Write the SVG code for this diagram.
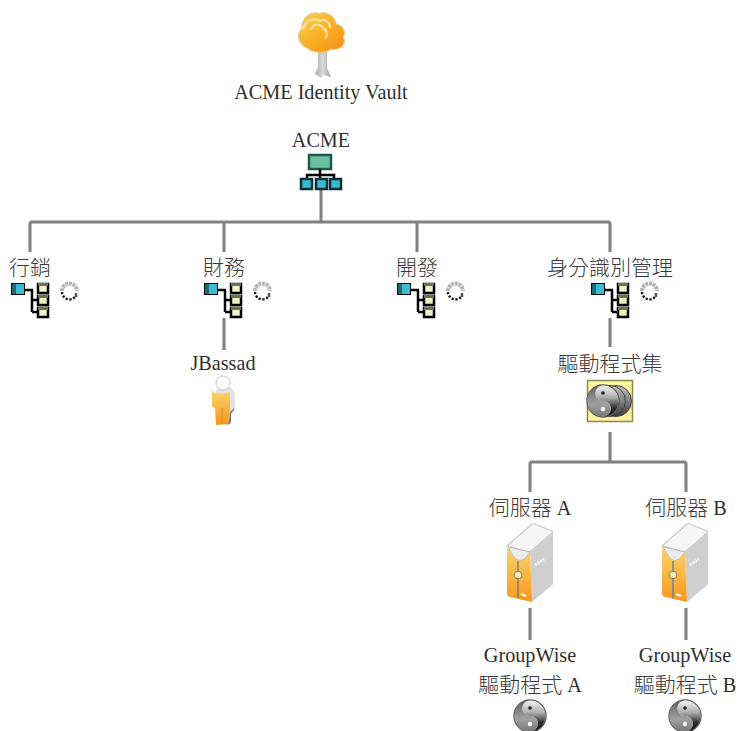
<svg xmlns="http://www.w3.org/2000/svg" width="738" height="731" viewBox="0 0 738 731">
<style>
text{font-family:"Liberation Serif","Noto Sans CJK TC",serif;font-size:20.200px;fill:#2e2e2e;text-anchor:middle}
.z{font-size:21px;font-weight:300;fill:#3a3a3a}
.c{stroke:#808080;stroke-width:3;fill:none}
.k{stroke:#000;stroke-width:2.500;fill:none}
</style>
<defs>
<linearGradient id="gold" x1="0" y1="0" x2="0" y2="1"><stop offset="0" stop-color="#fdd36a"/><stop offset="1" stop-color="#f7981c"/></linearGradient>
<linearGradient id="crown" x1="0" y1="0" x2="1" y2="1"><stop offset="0" stop-color="#fbd25c"/><stop offset=".55" stop-color="#f9ad20"/><stop offset="1" stop-color="#f28a1c"/></linearGradient>
<linearGradient id="trunk" x1="0" y1="0" x2="1" y2="0"><stop offset="0" stop-color="#a8acb0"/><stop offset=".5" stop-color="#d8dadc"/><stop offset="1" stop-color="#9ca0a4"/></linearGradient>
<linearGradient id="yy" x1="0" y1="0" x2="0" y2="1"><stop offset="0" stop-color="#606060"/><stop offset=".6" stop-color="#a0a0a0"/><stop offset="1" stop-color="#777"/></linearGradient>
<linearGradient id="yd" x1="0" y1="0" x2="0" y2="1"><stop offset="0" stop-color="#f4f4f4"/><stop offset=".4" stop-color="#aaa"/><stop offset=".7" stop-color="#333"/><stop offset="1" stop-color="#0c0c0c"/></linearGradient>
<linearGradient id="disc" x1="0" y1="0" x2="0" y2="1"><stop offset="0" stop-color="#c4c4c4"/><stop offset="1" stop-color="#3c3c3c"/></linearGradient>
<g id="ou">
<path class="k" d="M13 8H22M21 8V30M21 18H27M21 30H27"/>
<path d="M14 1H0V13H14Z" fill="#000"/>
<rect x="1" y="2" width="12" height="10" fill="#3cbcd4"/>
<path d="M1 2H5V12H1Z" fill="#1f6a74"/>
<g fill="#f4f2c4" stroke="#000" stroke-width="2.500">
<rect x="27" y="2" width="10" height="9"/><rect x="27" y="14" width="10" height="9"/><rect x="27" y="26" width="10" height="9"/>
</g>
<path d="M27 1H37V4H27ZM27 13H37V16H27ZM27 25H37V28H27Z" fill="#6e6e50"/>
</g>
<g id="clk">
<path d="M2 8A7.500 7.500 0 0 1 17 8" fill="none" stroke="#b4b4b4" stroke-width="4" stroke-dasharray="3 .7"/>
<path d="M2 9A7.500 7.500 0 0 0 15 14" fill="none" stroke="#111" stroke-width="2.400" stroke-dasharray="2.200 1.600"/>
<path d="M16 10V14" stroke="#555" stroke-width="2.500"/>
</g>
<g id="yin">
<circle r="16" fill="#fff" stroke="#5c5c5c" stroke-width="1.400"/>
<path d="M0-15.500A15.500 15.500 0 0 1 0 15.500A7.750 7.750 0 0 0 0 0A7.750 7.750 0 0 1 0-15.500Z" fill="url(#yd)"/>
<path d="M0-15.500A15.500 15.500 0 0 0 0 15.500A7.750 7.750 0 0 0 0 0A7.750 7.750 0 0 1 0-15.500Z" fill="url(#yy)"/>
<circle cx="0" cy="-8" r="1.800" fill="#222"/>
<circle cx="0" cy="8" r="2.200" fill="#fff"/>
</g>
<g id="srv">
<path d="M0 23L25 1Q26 0 28 1L45 8Q46 9 45 10L23 29Z" fill="#f6f6f6" stroke="#c8c8c8" stroke-width="1.200"/>
<path d="M23 30L46 10V60Q46 62 44 63L25 79Z" fill="#cecece"/>
<path d="M0 25L23 30L25 79L3 74Q0 73 0 70Z" fill="url(#gold)"/>
<path d="M1 24L23 29L20 33Q14 40 9 36Q5 32 1 24Z" fill="#ececec" stroke="#a8a8a8" stroke-width=".6"/>
<path d="M11 38V75" stroke="#5a7a9c" stroke-width="1.300"/>
<circle cx="11" cy="52" r="3.800" fill="#f7ecc0" stroke="#8a7a50"/>
<path d="M28 42L37 36" stroke="#fff" stroke-width="3" stroke-dasharray="2 1.200"/>
<path d="M14 71L19 73" stroke="#f4f4f4" stroke-width="2"/>
</g>
</defs>
<g id="connectors">
<path class="c" d="M321 190V222M30 222H610M30 222V252M224 222V252M417 222V252M610 222V252"/>
<path class="c" d="M224 318V350M610 318V347M610 432V462M530 462H686M530 462V492M686 462V492M530 608V640M686 608V640"/>
</g>
<g id="vault">
<path d="M318 50H327L327 68L331 77L323 75L321 78L315 74L318 67Z" fill="url(#trunk)"/>
<path d="M307 48C298 44 296 33 302 29C301 19 311 10 319 14C326 10 335 17 336 24C344 26 346 33 343 37C347 43 341 51 331 49C324 54 314 53 307 48Z" fill="url(#crown)" stroke="#eac680" stroke-width="1.200"/>
<path d="M303 29C306 20 315 17 320 21C326 18 331 24 330 28M311 30C313 23 320 23 323 28C327 30 328 35 325 39" fill="none" stroke="#fde4a0" stroke-width="2"/>
<text x="321" y="99">ACME Identity Vault</text>
</g>
<g id="acme">
<text x="321" y="147">ACME</text>
<rect x="309" y="155" width="22" height="14" fill="#6cc09e" stroke="#1c5650" stroke-width="2.500"/>
<path class="k" d="M320 169V175M307 179V175H334V179M320 175V179"/>
<g fill="#3cb8d0" stroke="#0c3038" stroke-width="2.500"><rect x="301" y="179" width="11" height="10"/><rect x="316" y="179" width="11" height="10"/><rect x="330" y="179" width="11" height="10"/></g>
</g>
<g id="marketing"><text class="z" x="30" y="275">行銷</text><use href="#ou" x="11" y="282"/><use href="#clk" x="60" y="283"/></g>
<g id="finance"><text class="z" x="224" y="275">財務</text><use href="#ou" x="204" y="282"/><use href="#clk" x="253" y="283"/></g>
<g id="dev"><text class="z" x="417" y="275">開發</text><use href="#ou" x="397" y="282"/><use href="#clk" x="446" y="283"/></g>
<g id="idm"><text class="z" x="610" y="275">身分識別管理</text><use href="#ou" x="591" y="282"/><use href="#clk" x="640" y="283"/></g>
<g id="jbassad">
<text x="223" y="370">JBassad</text>
<path d="M216 390L230 387Q235 390 235 396V410L231 412V423L226 426L216 412Z" fill="#e2e2e2"/>
<path d="M212 391Q219 396 230 392V408L228 424L216 425L215 408L212 407Z" fill="url(#gold)"/>
<path d="M230 412L234 408V410L231 414V423L228 425Z" fill="#808080"/>
<path d="M222 408V424" stroke="#c88a30"/>
<circle cx="223" cy="383" r="7" fill="#fff" stroke="#c8c8c8"/>
</g>
<g id="driverset">
<text class="z" x="610" y="371">驅動程式集</text>
<rect x="587.500" y="380.500" width="45" height="41" fill="#fdf4a0" stroke="#8a8a50" stroke-width="1.500"/>
<circle cx="616" cy="401" r="15.500" fill="url(#disc)" stroke="#444"/>
<circle cx="610" cy="401" r="15.500" fill="url(#disc)" stroke="#444"/>
<use href="#yin" x="603" y="401"/>
</g>
<g id="serverA">
<text x="530" y="515"><tspan class="z">伺服器</tspan> A</text>
<use href="#srv" x="507" y="523"/>
</g>
<g id="serverB">
<text x="686" y="515"><tspan class="z">伺服器</tspan> B</text>
<use href="#srv" x="662" y="523"/>
</g>
<g id="gwA">
<text x="530" y="662">GroupWise</text>
<text x="530" y="692"><tspan class="z">驅動程式</tspan> A</text>
<use href="#yin" x="530" y="716"/>
</g>
<g id="gwB">
<text x="685" y="662">GroupWise</text>
<text x="685" y="692"><tspan class="z">驅動程式</tspan> B</text>
<use href="#yin" x="685" y="716"/>
</g>
</svg>
